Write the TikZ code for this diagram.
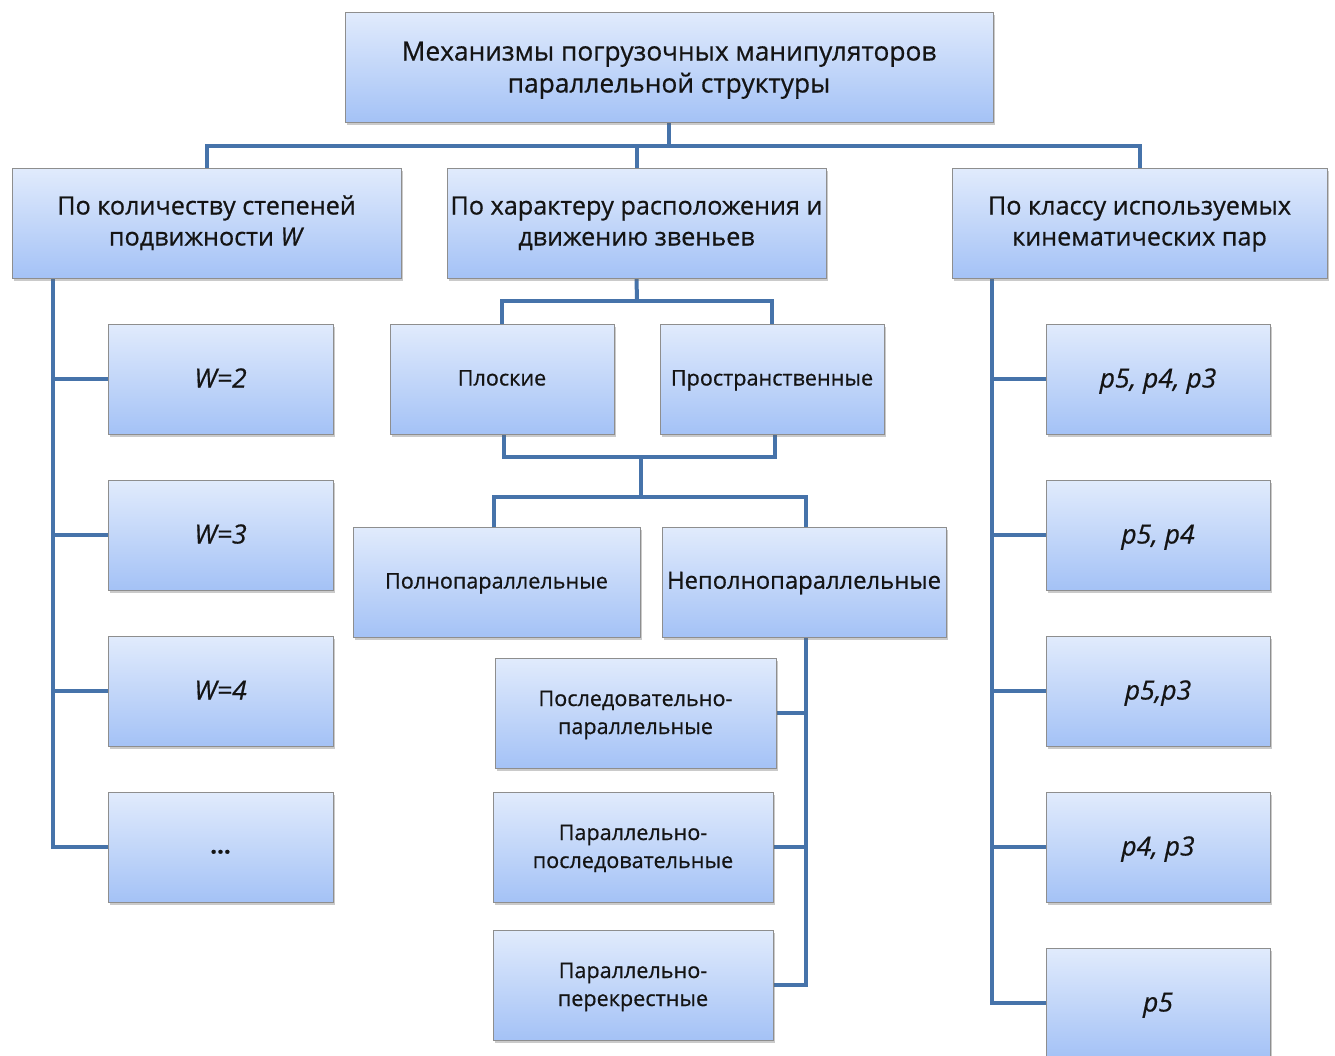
\documentclass[tikz,border=0pt]{standalone}
\usepackage{fontspec}
\setmainfont{Open Sans}[RawFeature={embolden=0.6}]
\usetikzlibrary{shadows,backgrounds}
\definecolor{lineblue}{HTML}{4673AA}
\definecolor{boxtop}{HTML}{E1EBFC}
\definecolor{boxbot}{HTML}{A4C2F6}
\definecolor{boxedge}{HTML}{8E8E8E}
\definecolor{txt}{HTML}{141414}
\begin{document}
\begin{tikzpicture}[x=1pt,y=-1pt,
  box/.style={draw=boxedge, line width=1pt, top color=boxtop, bottom color=boxbot,
    drop shadow={shadow xshift=2pt, shadow yshift=-3pt, opacity=0.35, fill=black!60},
    minimum height=110pt, inner sep=0pt, align=center, text=txt},
  toptxt/.style={font=\fontsize{26.3}{32}\selectfont, text height=58pt, text depth=7pt},
  hdr/.style={font=\fontsize{25.2}{31}\selectfont, text height=52pt, text depth=7pt},
  sml/.style={font=\fontsize{21.6}{28}\selectfont, text height=18pt, text depth=5pt},
  sml2/.style={font=\fontsize{21.6}{28}\selectfont, text height=48pt, text depth=6pt},
  big/.style={font=\fontsize{23.8}{28}\selectfont, text height=19pt, text depth=5.5pt},
  ital/.style={font=\fontsize{26.5}{30}\selectfont\itshape, text height=24pt, text depth=7pt},
  dots/.style={font=\fontsize{24}{28}\selectfont\bfseries, text height=15pt, text depth=2pt},
  conn/.style={draw=lineblue, line width=4pt}]
\useasboundingbox (0,0) rectangle (1335,1055);
\clip (0,0) rectangle (1335,1055);

% top
\node[box,toptxt,minimum width=648pt] (top) at (669,67) {Механизмы погрузочных манипуляторов\\параллельной структуры};
% level 1
\node[box,hdr,minimum width=389pt] (l1a) at (206.5,223) {По количеству степеней\\подвижности \textit{W}};
\node[box,hdr,minimum width=379pt] (l1b) at (636.5,223) {По характеру расположения и\\движению звеньев};
\node[box,hdr,minimum width=375pt] (l1c) at (1139.5,223) {По классу используемых\\кинематических пар};
% left column
\node[box,ital,minimum width=225pt] (w2) at (220.5,379) {W=2};
\node[box,ital,minimum width=225pt] (w3) at (220.5,535) {W=3};
\node[box,ital,minimum width=225pt] (w4) at (220.5,691) {W=4};
\node[box,dots,minimum width=225pt] (wd) at (220.5,847) {...};
% right column
\node[box,ital,minimum width=224pt] (p1) at (1158,379) {p5, p4, p3};
\node[box,ital,minimum width=224pt] (p2) at (1158,535) {p5, p4};
\node[box,ital,minimum width=224pt] (p3) at (1158,691) {p5,p3};
\node[box,ital,minimum width=224pt] (p4) at (1158,847) {p4, p3};
\node[box,ital,minimum width=224pt] (p5) at (1158,1003) {p5};
% middle
\node[box,sml,minimum width=224pt] (pl) at (502,379) {Плоские};
\node[box,sml,minimum width=224pt] (pr) at (772,379) {Пространственные};
\node[box,sml,minimum width=287pt] (fp) at (496.5,582) {Полнопараллельные};
\node[box,big,minimum width=284pt] (np) at (804,582) {Неполнопараллельные};
\node[box,sml2,minimum width=281pt] (s1) at (635.5,713) {Последовательно-\\параллельные};
\node[box,sml2,minimum width=280pt] (s2) at (633,847) {Параллельно-\\последовательные};
\node[box,sml2,minimum width=280pt] (s3) at (633,985) {Параллельно-\\перекрестные};

\begin{pgfonlayer}{background}
  \coordinate (b1) at (669,146);
  \draw[conn] (top.south) -- (b1);
  \draw[conn] (l1a.north) |- (b1) -| (l1c.north);
  \draw[conn] (l1b.north) -- (l1b.north |- b1);
  % left spine
  \coordinate (sL) at (53,278);
  \draw[conn] (sL) |- (wd.west);
  \draw[conn] (w2.west) -- (w2.west -| sL);
  \draw[conn] (w3.west) -- (w3.west -| sL);
  \draw[conn] (w4.west) -- (w4.west -| sL);
  % right spine
  \coordinate (sR) at (992,278);
  \draw[conn] (sR) |- (p5.west);
  \draw[conn] (p1.west) -- (p1.west -| sR);
  \draw[conn] (p2.west) -- (p2.west -| sR);
  \draw[conn] (p3.west) -- (p3.west -| sR);
  \draw[conn] (p4.west) -- (p4.west -| sR);
  % middle tree
  \coordinate (b2) at (637,301);
  \draw[conn] (l1b.south) -- (b2);
  \draw[conn] (pl.north) |- (b2) -| (pr.north);
  \coordinate (b3) at (641,457);
  \coordinate (b4) at (641,497);
  \draw[conn] ([xshift=2pt]pl.south) |- (b3) -| ([xshift=3pt]pr.south);
  \draw[conn] (b3) -- (b4);
  \draw[conn] ([xshift=-3pt]fp.north) |- (b4) -| ([xshift=2pt]np.north);
  % lower spine
  \coordinate (sN) at (806,637);
  \draw[conn] (sN) |- (s3.east);
  \draw[conn] (s1.east) -- (s1.east -| sN);
  \draw[conn] (s2.east) -- (s2.east -| sN);
\end{pgfonlayer}
\end{tikzpicture}
\end{document}
